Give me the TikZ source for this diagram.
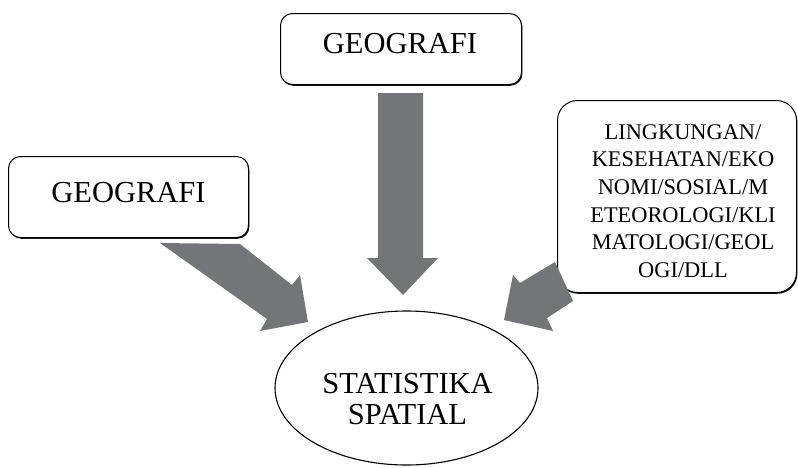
\documentclass[tikz,border=0pt]{standalone}
\usepackage{fontspec}
\setmainfont{Liberation Serif}
\usetikzlibrary{shapes.geometric,shadows}
\definecolor{arrowgray}{RGB}{116,117,121}
\tikzset{
  boxshape/.style={draw=black, line width=1pt, fill=white, rounded corners=#1,
    drop shadow={shadow xshift=0.9pt, shadow yshift=-1.3pt, fill=black, opacity=0.9},
    inner sep=0pt, anchor=north west},
  bigtext/.style={font=\fontsize{30.5}{31}\selectfont, inner sep=0pt, align=center},
  smalltext/.style={font=\fontsize{22.4}{27.6}\selectfont, inner sep=0pt, align=center},
  blockarrow/.style={fill=arrowgray, draw=none},
}
\begin{document}
\begin{tikzpicture}[x=1pt,y=-1pt]
\useasboundingbox (0,0) rectangle (798,467);
% boxes
\node[boxshape=12pt, minimum width=241pt, minimum height=71pt] (topbox) at (280,13) {};
\node[bigtext] (toptext) at (400,43.5) {GEOGRAFI};
\node[boxshape=12pt, minimum width=240pt, minimum height=81pt] (leftbox) at (8,156) {};
\node[bigtext] (lefttext) at (128.5,193) {GEOGRAFI};
\node[boxshape=20pt, minimum width=239pt, minimum height=192pt] (rightbox) at (557,100) {};
\node[smalltext] (righttext) at (683,201) {LINGKUNGAN/\\KESEHATAN/EKO\\NOMI/SOSIAL/M\\ETEOROLOGI/KLI\\MATOLOGI/GEOL\\OGI/DLL};
% ellipse
\node[ellipse, draw=black, line width=1.1pt, minimum width=263pt, minimum height=154pt, inner sep=0pt] (target) at (406.5,388) {};
\node[bigtext] (targettext) at (407.5,399) {STATISTIKA\\SPATIAL};
% block arrows
\fill[blockarrow] (378,93) -- (423,93) -- (423,258) -- (438,258) -- (403,295) -- (367,258) -- (378,258) -- cycle;
\fill[blockarrow] (160,243) -- (240,244) -- (292,285) -- (300,275) -- (308,322) -- (260,331) -- (267,319) -- cycle;
\fill[blockarrow] (555,262) -- (520,283) -- (513,275) -- (504,320) -- (553,331) -- (547,318) -- (573,301) -- cycle;
\end{tikzpicture}
\end{document}
